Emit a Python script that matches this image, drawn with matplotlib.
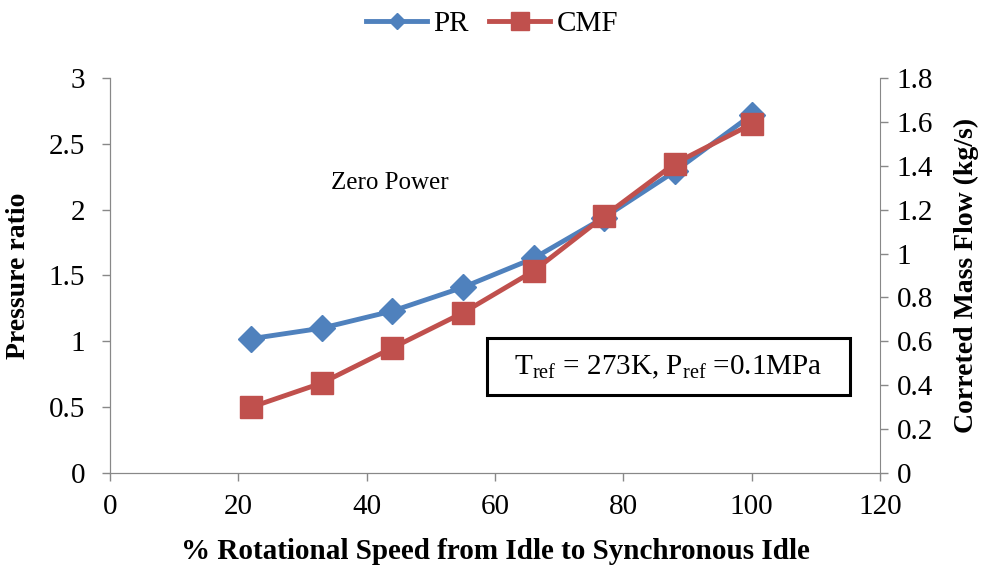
import matplotlib.pyplot as plt
from matplotlib.lines import Line2D
from matplotlib.patches import Rectangle

# Daten
speed = [22, 33, 44, 55, 66, 77, 88, 100]
pr = [1.02, 1.10, 1.23, 1.41, 1.63, 1.94, 2.29, 2.72]
cmf = [0.30, 0.41, 0.57, 0.73, 0.92, 1.17, 1.41, 1.59]

plt.rcParams['font.family'] = 'Liberation Serif'
plt.rcParams['mathtext.fontset'] = 'custom'
plt.rcParams['mathtext.rm'] = 'Liberation Serif'

blue = '#4F81BD'
red = '#C0504D'
grey = '#888888'

fig = plt.figure(figsize=(9.84, 5.65), dpi=100)
ax = fig.add_axes([0.1118, 0.1628, 0.7825, 0.6992])
ax2 = ax.twinx()

ax.plot(speed, pr, color=blue, lw=3.5, marker='D', markersize=13)
ax2.plot(speed, cmf, color=red, lw=3.5, marker='s', markersize=16.5)

ax.set_xlim(0, 120)
ax.set_ylim(0, 3)
ax2.set_ylim(0, 1.8)
ax.set_xticks(range(0, 121, 20))
ax.set_yticks([0, 0.5, 1, 1.5, 2, 2.5, 3])
ax.set_yticklabels(['0', '0.5', '1', '1.5', '2', '2.5', '3'])
ax2.set_yticks([0, 0.2, 0.4, 0.6, 0.8, 1, 1.2, 1.4, 1.6, 1.8])
ax2.set_yticklabels(['0', '0.2', '0.4', '0.6', '0.8', '1', '1.2', '1.4', '1.6', '1.8'])

for a in (ax, ax2):
    a.spines['top'].set_visible(False)
    for s in a.spines.values():
        s.set_color(grey)
    a.tick_params(colors=grey, labelcolor='black', labelsize=21, length=6, width=1)
ax.spines['right'].set_visible(False)
ax.tick_params(axis='y', pad=12)
ax.tick_params(axis='x', pad=9)
ax2.tick_params(axis='y', pad=6)

ax.set_xlabel('% Rotational Speed from Idle to Synchronous Idle', fontsize=21, fontweight='bold')
ax.set_ylabel('Pressure ratio', fontsize=20, fontweight='bold')
ax2.set_ylabel('Correted Mass Flow (kg/s)', fontsize=20, fontweight='bold')
ax.xaxis.set_label_coords(0.5, -0.165)
ax.yaxis.set_label_coords(-0.103, 0.5)
ax2.yaxis.set_label_coords(1.096, 0.5)

ax.text(43.6, 2.2, 'Zero Power', fontsize=18, ha='center', va='center')
ax.add_patch(Rectangle((0.4896, 0.1975), 0.4714, 0.1445, transform=ax.transAxes,
                       facecolor='white', edgecolor='black', lw=2.2, zorder=5))
ax.text(0.725, 0.268, r'T$_{\mathrm{ref}}$ = 273K, P$_{\mathrm{ref}}$ =0.1MPa', transform=ax.transAxes,
        fontsize=21, ha='center', va='center', zorder=6)

handles = [Line2D([], [], color=blue, lw=3.5, marker='D', markersize=8, label='PR'),
           Line2D([], [], color=red, lw=3.5, marker='s', markersize=13, label='CMF')]
fig.legend(handles=handles, loc='center', bbox_to_anchor=(0.5, 0.958), ncol=2, frameon=False,
           fontsize=21, handlelength=2.1, columnspacing=0.7, handletextpad=0.2)

fig.savefig('out.png', dpi=100)
